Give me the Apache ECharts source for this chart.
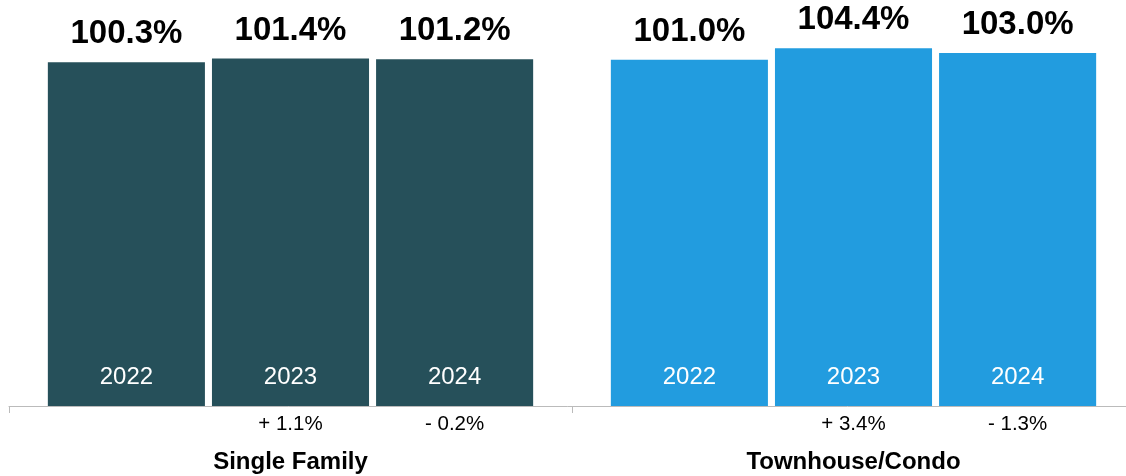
<!DOCTYPE html>
<html>
<head>
<meta charset="utf-8">
<script src="https://cdn.jsdelivr.net/npm/echarts@6/dist/echarts.min.js"></script>
<style>
html,body{margin:0;padding:0;background:#fff;}
#c{width:1126px;height:476px;}
</style>
</head>
<body>
<div id="c"></div>
<script>
const categories = ['Single Family', 'Townhouse/Condo'];
const years = ['2022', '2023', '2024'];
const singleFamily = [100.3, 101.4, 101.2];
const townhouse = [101.0, 104.4, 103.0];
const singleFamilyChange = ['', '+ 1.1%', '- 0.2%'];
const townhouseChange = ['', '+ 3.4%', '- 1.3%'];

const groupValues = [singleFamily, townhouse];
const groupChanges = [singleFamilyChange, townhouseChange];
const groupColors = ['#26505a', '#229cdf'];
const FONT = '"Liberation Sans", Arial, Helvetica, sans-serif';

const data = [];
groupValues.forEach((vals, ci) => vals.forEach((v, yi) => data.push([ci, yi, v])));

const chart = echarts.init(document.getElementById('c'), null, {renderer: 'canvas'});
chart.setOption({
  animation: false,
  grid: {left: 9, top: 29, width: 1126, height: 377, containLabel: false, outerBoundsMode: 'none'},
  xAxis: {
    type: 'category',
    data: categories,
    axisLine: {show: true, lineStyle: {color: '#bbbbbb', width: 1}},
    axisTick: {show: true, length: 7, lineStyle: {color: '#bbbbbb'}},
    axisLabel: {fontFamily: FONT, fontSize: 24, fontWeight: 'bold', color: '#000', margin: 44}
  },
  yAxis: {type: 'value', min: 0, max: 110, show: false, splitLine: {show: false}},
  series: [{
    type: 'custom',
    clip: false,
    encode: {x: 0, y: 2},
    data: data,
    renderItem: function (params, api) {
      const ci = api.value(0), yi = api.value(1), v = api.value(2);
      const base = api.coord([ci, 0]);
      const top = api.coord([ci, v]);
      const band = api.size([1, 0])[0];
      const bw = band * 0.279;
      const step = band * 0.2915;
      const cx = base[0] + (yi - 1) * step;
      return {
        type: 'group',
        children: [
          {type: 'rect', shape: {x: cx - bw / 2, y: top[1], width: bw, height: base[1] - top[1]},
           style: {fill: groupColors[ci]}},
          {type: 'text', x: cx, y: top[1] - 28,
           style: {text: v.toFixed(1) + '%', fontFamily: FONT, fontSize: 33, fontWeight: 'bold',
                   fill: '#000', align: 'center', verticalAlign: 'middle'}},
          {type: 'text', x: cx, y: base[1] - 28.5,
           style: {text: years[yi], fontFamily: FONT, fontSize: 24, fill: '#fff',
                   align: 'center', verticalAlign: 'middle'}},
          {type: 'text', x: cx, y: base[1] + 18,
           style: {text: groupChanges[ci][yi], fontFamily: FONT, fontSize: 20.5, fill: '#000',
                   align: 'center', verticalAlign: 'middle'}}
        ]
      };
    }
  }]
});
</script>
</body>
</html>
